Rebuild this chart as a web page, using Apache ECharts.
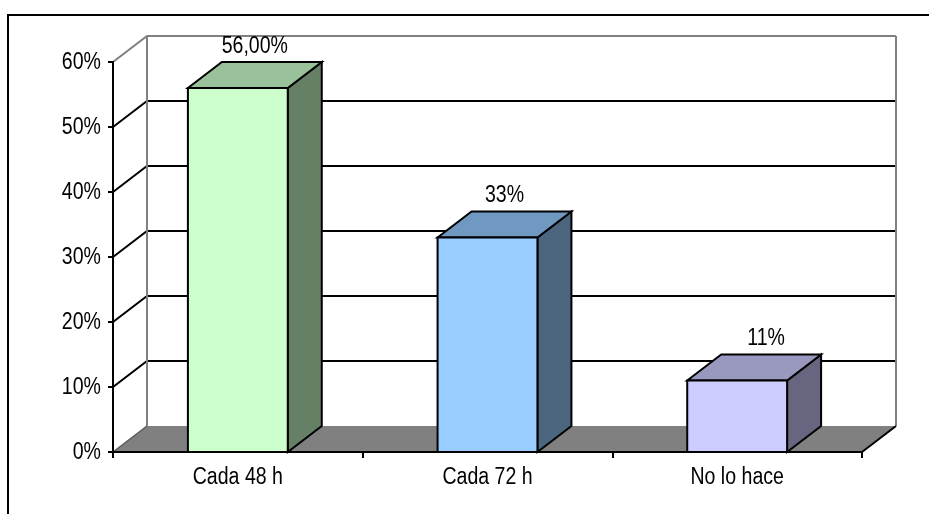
<!DOCTYPE html>
<html>
<head>
<meta charset="utf-8">
<style>
  html, body { margin: 0; padding: 0; background: #fff; }
  #chart { width: 929px; height: 514px; }
</style>
<script src="https://cdn.jsdelivr.net/npm/echarts@6/dist/echarts.min.js"></script>
</head>
<body>
<div id="chart"></div>
<script>
// Frequency shares per category
const categories = ['Cada 48 h', 'Cada 72 h', 'No lo hace'];
const values = [56, 33, 11];
const valueLabels = ['56,00%', '33%', '11%'];
const yTicks = [0, 10, 20, 30, 40, 50, 60];
const yTickLabels = ['0%', '10%', '20%', '30%', '40%', '50%', '60%'];

// Face colours for each column: front, top, side
const frontColors = ['#CCFFCC', '#99CCFF', '#CCCCFF'];
const topColors = ['#9AC29A', '#7099C2', '#9999BF'];
const sideColors = ['#668066', '#4D6680', '#666680'];

const FONT = "'Liberation Sans', Arial, sans-serif";
const FONT_SIZE = 23;
const NARROW = 0.85;   // horizontal squeeze for a narrow face
// Perspective offset of the back plane (pixels)
const DX = 34, DY = -26;

const chart = echarts.init(document.getElementById('chart'), null, { renderer: 'canvas' });

function narrowText(text, x, y, align, vAlign) {
  return {
    type: 'text',
    x: x,
    y: y,
    scaleX: NARROW,
    style: {
      text: text, x: 0, y: 0,
      align: align, verticalAlign: vAlign,
      fill: '#000', fontSize: FONT_SIZE, fontFamily: FONT
    }
  };
}

function renderWalls(params, api) {
  const cs = params.coordSys;
  const left = cs.x, right = cs.x + cs.width;
  const yBase = api.coord([0, 0])[1];
  const yTop = api.coord([0, yTicks[yTicks.length - 1]])[1];
  const children = [];
  // floor
  children.push({
    type: 'polygon',
    shape: { points: [[left, yBase], [right, yBase], [right + DX, yBase + DY], [left + DX, yBase + DY]] },
    style: { fill: '#808080', stroke: null }
  });
  // grid lines running along the side and back walls
  yTicks.forEach(function (v, i) {
    if (i === 0) return;
    const y = api.coord([0, v])[1];
    const col = i === yTicks.length - 1 ? '#808080' : '#000';
    children.push({
      type: 'polyline',
      shape: { points: [[left, y], [left + DX, y + DY], [right + DX, y + DY]] },
      style: { stroke: col, lineWidth: 2, fill: null }
    });
  });
  // back wall edges
  children.push({
    type: 'line',
    shape: { x1: left + DX, y1: yTop + DY, x2: left + DX, y2: yBase + DY },
    style: { stroke: '#808080', lineWidth: 2 }
  });
  children.push({
    type: 'line',
    shape: { x1: right + DX, y1: yTop + DY, x2: right + DX, y2: yBase + DY },
    style: { stroke: '#808080', lineWidth: 2 }
  });
  // floor side edges
  children.push({
    type: 'line',
    shape: { x1: left, y1: yBase, x2: left + DX, y2: yBase + DY },
    style: { stroke: '#5a5a5a', lineWidth: 1.5 }
  });
  children.push({
    type: 'line',
    shape: { x1: right, y1: yBase, x2: right + DX, y2: yBase + DY },
    style: { stroke: '#000', lineWidth: 2 }
  });
  // value axis tick labels
  yTicks.forEach(function (v, i) {
    const y = api.coord([0, v])[1];
    children.push(narrowText(yTickLabels[i], left - 12, y + 1, 'right', 'middle'));
  });
  // category labels
  categories.forEach(function (c, i) {
    const p = api.coord([i, 0]);
    children.push(narrowText(c, p[0], yBase + 14, 'center', 'top'));
  });
  return { type: 'group', children: children };
}

function renderBar(params, api) {
  const idx = api.value(0);
  const val = api.value(1);
  const base = api.coord([idx, 0]);
  const top = api.coord([idx, val]);
  const w = api.size([1, 0])[0] * 0.4;
  const x0 = base[0] - w / 2, x1 = base[0] + w / 2;
  const yb = base[1], yt = top[1];
  const edge = { stroke: '#000', lineWidth: 2, lineJoin: 'miter' };
  const i = params.dataIndex;
  return {
    type: 'group',
    children: [
      {
        type: 'polygon',
        shape: { points: [[x1, yt], [x1 + DX, yt + DY], [x1 + DX, yb + DY], [x1, yb]] },
        style: Object.assign({ fill: sideColors[i] }, edge)
      },
      {
        type: 'polygon',
        shape: { points: [[x0, yt], [x0 + DX, yt + DY], [x1 + DX, yt + DY], [x1, yt]] },
        style: Object.assign({ fill: topColors[i] }, edge)
      },
      {
        type: 'polygon',
        shape: { points: [[x0, yt], [x1, yt], [x1, yb], [x0, yb]] },
        style: Object.assign({ fill: frontColors[i] }, edge)
      },
      narrowText(valueLabels[i], base[0] + DX / 2 + (i === 2 ? 12 : 0), yt + DY - 4, 'center', 'bottom')
    ]
  };
}

chart.setOption({
  animation: false,
  backgroundColor: '#fff',
  graphic: [{
    type: 'rect',
    shape: { x: 8, y: 15, width: 1000, height: 600 },
    style: { fill: null, stroke: '#000', lineWidth: 2 },
    z: 0
  }],
  grid: { left: 113, right: 67, top: 62, bottom: 62 },
  xAxis: {
    type: 'category',
    data: categories,
    z: 10,
    axisLine: { show: true, lineStyle: { color: '#000', width: 2 } },
    axisTick: { show: true, length: 6, interval: 0, lineStyle: { color: '#000', width: 2 } },
    axisLabel: { show: false },
    splitLine: { show: false }
  },
  yAxis: {
    type: 'value',
    min: 0,
    max: 60,
    interval: 10,
    z: 10,
    axisLine: { show: true, lineStyle: { color: '#000', width: 2 } },
    axisTick: { show: true, length: 5, lineStyle: { color: '#000', width: 2 } },
    axisLabel: { show: false },
    splitLine: { show: false }
  },
  series: [
    {
      type: 'custom',
      name: 'walls',
      z: 1,
      silent: true,
      renderItem: renderWalls,
      data: [[0, 0]]
    },
    {
      type: 'custom',
      name: 'Frecuencia',
      z: 2,
      renderItem: renderBar,
      data: values.map(function (v, i) { return [i, v]; })
    }
  ]
});
</script>
</body>
</html>
